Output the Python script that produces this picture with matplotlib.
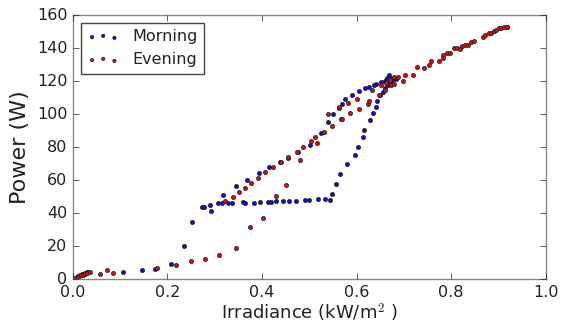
import matplotlib
matplotlib.use("Agg")
import matplotlib.pyplot as plt

plt.style.use("classic")

# Morning (blue) data
morning_x = [0.002, 0.005, 0.008, 0.011, 0.015, 0.019, 0.022, 0.026, 0.029, 0.032,
             0.106, 0.146, 0.173, 0.208, 0.235, 0.251,
             0.272, 0.278, 0.290, 0.292, 0.306, 0.315, 0.327, 0.337, 0.360, 0.364,
             0.384, 0.395, 0.412, 0.418, 0.430, 0.444, 0.458, 0.472, 0.490, 0.500,
             0.518, 0.534, 0.543,
             0.317, 0.344, 0.368, 0.393, 0.415, 0.439, 0.455, 0.477, 0.501, 0.524,
             0.539, 0.550, 0.562, 0.569, 0.576, 0.591, 0.604, 0.617, 0.627, 0.636,
             0.641, 0.652, 0.659, 0.668, 0.673, 0.678, 0.684,
             0.548, 0.557, 0.564, 0.580, 0.597, 0.603, 0.613, 0.615, 0.629, 0.635,
             0.641, 0.643, 0.650, 0.655, 0.660, 0.666, 0.670, 0.674, 0.665, 0.662]
morning_y = [0.4, 0.9, 1.4, 1.9, 2.5, 2.9, 3.3, 3.7, 4.1, 4.5,
             4.6, 5.4, 6.4, 9.1, 20.0, 34.5,
             43.6, 44.0, 44.8, 41.5, 46.0, 46.0, 46.4, 46.4, 46.6, 46.4,
             46.4, 46.6, 46.8, 47.0, 47.2, 47.2, 47.6, 47.6, 48.2, 48.2,
             48.4, 48.3, 48.2,
             51.3, 56.3, 60.3, 64.2, 67.7, 71.2, 73.4, 77.0, 81.5, 88.4,
             95.1, 100.3, 103.9, 105.9, 109.0, 111.7, 113.8, 115.6, 116.6, 117.6,
             118.0, 119.6, 120.0, 123.5, 121.7, 122.0, 121.5,
             51.6, 57.9, 64.0, 69.6, 75.0, 80.2, 86.2, 90.4, 96.5, 100.6,
             104.4, 107.9, 111.6, 113.6, 115.6, 117.6, 119.0, 120.5, 122.0, 120.5]

# Evening (red) data
evening_x = [0.001, 0.004, 0.007, 0.010, 0.013, 0.017, 0.021, 0.025, 0.030, 0.036,
             0.057, 0.072, 0.085, 0.177, 0.219, 0.249, 0.279, 0.309, 0.345,
             0.375, 0.402, 0.430, 0.451, 0.481, 0.516, 0.548, 0.566, 0.570, 0.586,
             0.604, 0.624, 0.647, 0.661, 0.672, 0.680,
             0.322, 0.339, 0.351, 0.363, 0.376, 0.391, 0.407, 0.423, 0.441, 0.454,
             0.474, 0.486, 0.504, 0.513, 0.530, 0.539, 0.562, 0.581, 0.600, 0.627,
             0.632, 0.652, 0.662, 0.670, 0.680, 0.687, 0.699, 0.703, 0.719, 0.727,
             0.743, 0.754, 0.757, 0.774, 0.782, 0.783, 0.792, 0.798, 0.805, 0.812,
             0.819, 0.823, 0.830, 0.835, 0.842, 0.849, 0.867, 0.872, 0.879, 0.884,
             0.891, 0.895, 0.902, 0.906, 0.912, 0.917, 0.919]
evening_y = [0.2, 0.6, 1.0, 1.4, 1.8, 2.3, 2.8, 3.3, 3.9, 4.6,
             3.0, 5.6, 4.0, 7.0, 8.7, 10.9, 12.5, 14.9, 18.9,
             31.8, 36.9, 50.4, 57.1, 72.2, 82.7, 92.8, 97.3, 96.8, 100.8,
             103.1, 106.1, 111.6, 114.4, 117.5, 118.5,
             47.4, 49.6, 52.7, 55.2, 58.1, 61.6, 64.8, 67.9, 70.8, 73.8,
             77.2, 79.9, 83.7, 86.1, 89.0, 99.9, 104.1, 106.5, 109.2, 107.9,
             114.8, 117.4, 119.0, 120.5, 122.3, 122.3, 120.0, 123.7, 123.7, 128.7,
             127.7, 129.5, 132.0, 132.0, 135.8, 134.0, 136.8, 137.2, 139.8, 140.0,
             139.4, 141.2, 141.8, 141.8, 143.5, 144.2, 146.9, 147.9, 149.0, 148.9,
             150.5, 150.8, 152.3, 152.0, 152.9, 152.9, 152.9]

fig = plt.figure(figsize=(5.65, 3.27), dpi=100, facecolor="white")
ax = fig.add_axes([0.129, 0.146, 0.837, 0.808])

ax.scatter(morning_x, morning_y, s=9, c="#1010c8", edgecolors="#202020", linewidths=0.5,
           label="Morning")
ax.scatter(evening_x, evening_y, s=9, c="#d01010", edgecolors="#202020", linewidths=0.5,
           label="Evening")

ax.set_xlim(0.0, 1.0)
ax.set_ylim(0, 160)
ax.set_xticks([0.0, 0.2, 0.4, 0.6, 0.8, 1.0])
ax.set_yticks([0, 20, 40, 60, 80, 100, 120, 140, 160])
ax.tick_params(labelsize=11.5, colors="#222222")
for s in ax.spines.values():
    s.set_color("#888888")

ax.set_xlabel("Irradiance (kW/m$^2$ )", fontsize=13, labelpad=1, color="#222222")
ax.set_ylabel("Power (W)", fontsize=16, color="#222222")

leg = ax.legend(loc="upper left", fontsize=11.5, scatterpoints=3, markerscale=0.8)
leg.get_frame().set_edgecolor("#444444")
for t in leg.get_texts():
    t.set_color("#222222")

fig.savefig("out.png", dpi=100, facecolor="white")
